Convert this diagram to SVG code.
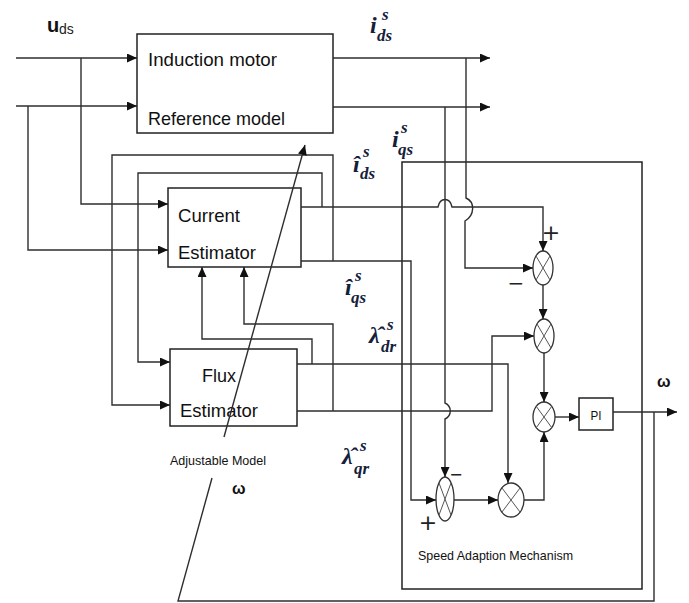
<svg xmlns="http://www.w3.org/2000/svg" width="689" height="603" viewBox="0 0 689 603">
<defs>
<marker id="arr" markerUnits="userSpaceOnUse" markerWidth="10" markerHeight="9" refX="10" refY="4.5" orient="auto">
<path d="M0,0 L10,4.5 L0,9 z" fill="#111"/>
</marker>
<style>
.box{fill:#fff;stroke:#222;stroke-width:1.5}
.frame{fill:none;stroke:#222;stroke-width:1.5}
.mul{fill:#fff;stroke:#333;stroke-width:1.3}
.x{stroke:#555;stroke-width:1}
.c{fill:none;stroke:#2e2e2e;stroke-width:1.4}
.ca{fill:none;stroke:#2e2e2e;stroke-width:1.4;marker-end:url(#arr)}
.t{font-family:"Liberation Sans",Arial,sans-serif;fill:#111}
.m{font-family:"Liberation Serif","Times New Roman",serif;font-weight:bold;font-style:italic;fill:#14203a;font-size:24px}
.m tspan{font-size:17px}
.sg{font-family:"DejaVu Sans",sans-serif;fill:#222}
</style>
</defs>
<rect width="689" height="603" fill="#fff"/>

<g id="induction-motor">
<rect class="box" x="137" y="34" width="196" height="99"/>
<text class="t" x="148" y="66" font-size="19" textLength="129" lengthAdjust="spacingAndGlyphs">Induction motor</text>
<text class="t" x="148" y="125" font-size="19" textLength="137" lengthAdjust="spacingAndGlyphs">Reference model</text>
</g>

<g id="current-estimator">
<rect class="box" x="168" y="188" width="133" height="79"/>
<text class="t" x="178" y="222" font-size="19" textLength="62" lengthAdjust="spacingAndGlyphs">Current</text>
<text class="t" x="178" y="259" font-size="19" textLength="78" lengthAdjust="spacingAndGlyphs">Estimator</text>
</g>

<g id="flux-estimator">
<rect class="box" x="170" y="349" width="127" height="77"/>
<text class="t" x="202" y="382" font-size="19" textLength="34" lengthAdjust="spacingAndGlyphs">Flux</text>
<text class="t" x="180" y="417" font-size="19" textLength="78" lengthAdjust="spacingAndGlyphs">Estimator</text>
</g>

<g id="adjustable-model">
<text class="t" x="170" y="465" font-size="13" textLength="96" lengthAdjust="spacingAndGlyphs">Adjustable Model</text>
</g>

<g id="speed-adaption-mechanism">
<rect class="frame" x="402" y="162" width="240" height="427"/>
<text class="t" x="418" y="560" font-size="13" textLength="155" lengthAdjust="spacingAndGlyphs">Speed Adaption Mechanism</text>
</g>

<g id="mul1">
<ellipse class="mul" cx="543" cy="268" rx="10" ry="17"/>
<path class="x" d="M536,256 L550,280 M550,256 L536,280"/>
</g>
<g id="mul2">
<ellipse class="mul" cx="544" cy="336" rx="10" ry="17"/>
<path class="x" d="M537,324 L551,348 M551,324 L537,348"/>
</g>
<g id="mul3">
<ellipse class="mul" cx="544" cy="417" rx="11" ry="15"/>
<path class="x" d="M536,406 L552,428 M552,406 L536,428"/>
</g>
<g id="mul4">
<ellipse class="mul" cx="445" cy="499" rx="9" ry="22"/>
<path class="x" d="M439,483 L451,515 M451,483 L439,515"/>
</g>
<g id="mul5">
<ellipse class="mul" cx="511" cy="500" rx="13" ry="17"/>
<path class="x" d="M502,488 L520,512 M520,488 L502,512"/>
</g>

<g id="pi">
<rect class="box" x="579" y="398" width="34" height="32"/>
<text class="t" x="596" y="420" font-size="13" text-anchor="middle" textLength="11" lengthAdjust="spacingAndGlyphs">PI</text>
</g>

<g id="connectors">
<path class="ca" d="M16,58 H137"/>
<path class="ca" d="M81,58 V204 H168"/>
<path class="ca" d="M16,106 H137"/>
<path class="ca" d="M28,106 V250 H168"/>
<path class="ca" d="M333,58 H490"/>
<path class="ca" d="M333,107 H490"/>
<path class="ca" d="M466,58 V198 C475,202 475,215 465,221 V268 H533"/>
<path class="ca" d="M445,107 V403 C452,406 452,416 445,419 V477"/>
<path class="ca" d="M301,207 H438 C440,197 450,197 452,207 H543 V251"/>
<path class="ca" d="M322,207 V173 H138 V362 H170"/>
<path class="ca" d="M301,261 H411 V500 H436"/>
<path class="ca" d="M333,261 V155 H112 V405 H170"/>
<path class="ca" d="M297,364 H508 V483"/>
<path class="ca" d="M312,364 V339 H202 V267"/>
<path class="ca" d="M297,411 H492 V336 H534"/>
<path class="ca" d="M333,411 V324 H244 V267"/>
<path class="ca" d="M543,285 V319"/>
<path class="ca" d="M544,353 V402"/>
<path class="ca" d="M555,417 H579"/>
<path class="ca" d="M613,412 H677"/>
<path class="ca" d="M454,500 H498"/>
<path class="ca" d="M524,500 H544 V432"/>
<path class="c" d="M654,412 V601 H178 L212,478"/>
<path class="ca" d="M224,437 L305,145"/>
</g>

<g id="labels">
<text x="47" y="32" font-family="Liberation Sans,Arial,sans-serif" font-weight="bold" font-size="20" fill="#111">u<tspan x="59" y="34" font-weight="normal" font-size="14" fill="#222">ds</tspan></text>

<text class="m" x="370" y="33">i<tspan x="382" y="20">s</tspan><tspan x="377" y="41">ds</tspan></text>

<text class="m" x="392" y="147">i<tspan x="401" y="133">s</tspan><tspan x="398" y="155">qs</tspan></text>

<text class="m" x="353" y="172">î<tspan x="363" y="157">s</tspan><tspan x="360" y="179">ds</tspan></text>

<text class="m" x="345" y="295">î<tspan x="355" y="281">s</tspan><tspan x="351" y="303">qs</tspan></text>

<text class="m" x="369" y="343">λ̂<tspan x="387" y="330">s</tspan><tspan x="381" y="352">dr</tspan></text>

<text class="m" x="342" y="464">λ̂<tspan x="360" y="451">s</tspan><tspan x="354" y="474">qr</tspan></text>

<text x="657" y="387" font-family="Liberation Sans,Arial,sans-serif" font-weight="bold" font-size="16" fill="#111">ω</text>
<text x="232" y="494" font-family="Liberation Sans,Arial,sans-serif" font-weight="bold" font-size="16" fill="#111">ω</text>

<text class="sg" x="551" y="240" font-size="22" text-anchor="middle">+</text>
<text class="sg" x="516" y="290" font-size="20" text-anchor="middle">−</text>
<text class="sg" x="456" y="480" font-size="16" text-anchor="middle">−</text>
<text class="sg" x="428" y="530" font-size="22" text-anchor="middle">+</text>
</g>
</svg>
